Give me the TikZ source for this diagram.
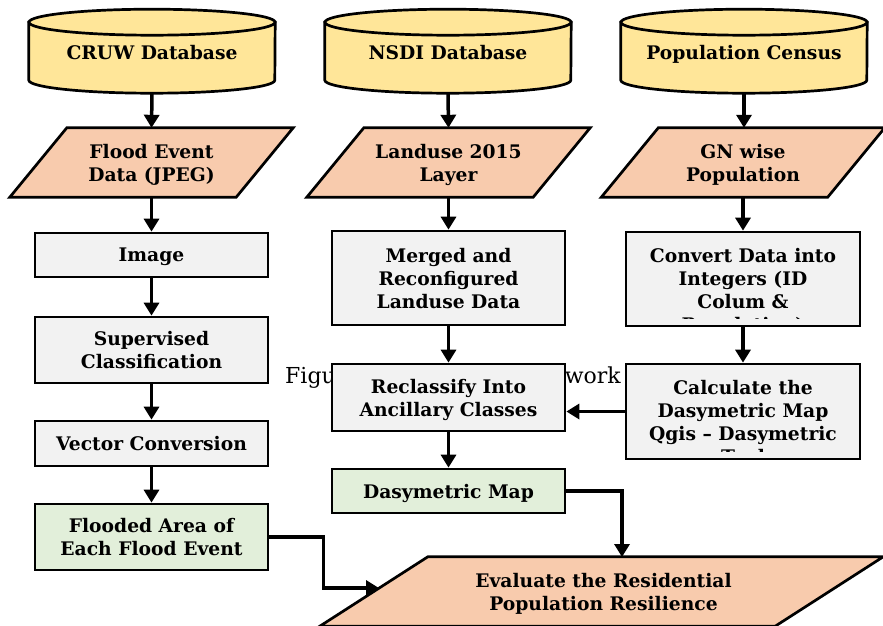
\documentclass[tikz,border=0pt]{standalone}
\usepackage{fontspec}
\setmainfont{DejaVu Serif}
\usetikzlibrary{arrows.meta,calc}
\pgfdeclarelayer{bg}
\pgfsetlayers{bg,main}
\definecolor{cylfill}{HTML}{FFE699}
\definecolor{parafill}{HTML}{F8CBAD}
\definecolor{boxfill}{HTML}{F2F2F2}
\definecolor{greenfill}{HTML}{E2EFDA}
\tikzset{
  lbl/.style={font=\bfseries\fontsize{18.7}{23}\selectfont, align=center, text=black, text depth=0pt},
  area/.style={inner sep=0pt, lbl},
  cyltext/.style={area, text height=14pt, text depth=4pt},
  procbox/.style={draw, line width=2.7pt, fill=boxfill, inner sep=0pt, lbl},
  resbox/.style={procbox, fill=greenfill},
  shapeline/.style={draw, line width=2.7pt},
  flow/.style={line width=3.5pt, -{Triangle[width=15pt,length=13pt]}},
  capt/.style={font=\fontsize{22}{26}\selectfont, inner sep=0pt},
}
\newcommand\drawcyl[1]{%
  \path[shapeline, fill=cylfill] ($(#1.south west)+(0,-71)$) -- ($(#1.south west)+(0,-13)$)
    arc[start angle=180, end angle=360, x radius=123pt, y radius=13pt]
    -- ($(#1.south east)+(0,-71)$) -- cycle;
  \path[shapeline, fill=cylfill] ($(#1.south)+(0,-71)$) ellipse[x radius=123pt, y radius=13pt];}
\newcommand\drawpara[2]{%
  \path[shapeline, fill=parafill] (#1.south west) -- ($(#1.south east)+(-#2,0)$)
    -- (#1.north east) -- ($(#1.north west)+(#2,0)$) -- cycle;}
\begin{document}
\begin{tikzpicture}[x=1pt,y=-1pt]
\useasboundingbox (0,0) rectangle (883,625);
\clip (0,0) rectangle (883,625);
% caption fragments behind the boxes
\node[capt, anchor=base west] (figu) at (285,383) {Figu};
\node[capt, anchor=base east] (work) at (621,383) {work};
% databases
\node[cyltext, minimum width=246pt, minimum height=78pt] (cruw) at (152,54) {CRUW Database};
\node[cyltext, minimum width=246pt, minimum height=78pt] (nsdi) at (448,54) {NSDI Database};
\node[cyltext, minimum width=246pt, minimum height=78pt] (census) at (744,54) {Population Census};
% data layers
\node[area, minimum width=283pt, minimum height=69pt] (flood) at (151.5,162.5) {Flood Event\\Data (JPEG)};
\node[area, minimum width=283pt, minimum height=69pt] (landuse) at (448.5,162.5) {Landuse 2015\\Layer};
\node[area, minimum width=283pt, minimum height=69pt] (gn) at (743,162.5) {GN wise\\Population};
% left column
\node[procbox, minimum width=233pt, minimum height=44pt] (image) at (151.5,255) {Image};
\node[procbox, minimum width=233pt, minimum height=66pt] (superv) at (151.5,350) {Supervised\\Classification};
\node[procbox, minimum width=233pt, minimum height=45pt] (vector) at (151.5,443.5) {Vector Conversion};
\node[resbox, minimum width=233pt, minimum height=66pt] (flooded) at (151.5,537) {Flooded Area of\\Each Flood Event};
% middle column
\node[procbox, minimum width=233pt, minimum height=94pt] (merged) at (448.5,278) {Merged and\\Reconfigured\\Landuse Data};
\node[procbox, minimum width=233pt, minimum height=67pt] (reclass) at (448.5,397.5) {Reclassify Into\\Ancillary Classes};
\node[resbox, minimum width=233pt, minimum height=44pt] (dasy) at (448.5,491) {Dasymetric Map};
% right column
\node[procbox, minimum width=234pt, minimum height=94pt] (convert) at (743,279) {};
\node[procbox, minimum width=234pt, minimum height=95pt] (calc) at (743,411.5) {};
\begin{scope}
  \clip ($(convert.north west)+(2,2)$) rectangle ($(convert.south east)+(-2,-9)$);
  \node[lbl, inner sep=0pt] (convtxt) at (743,290) {Convert Data into\\Integers (ID\\Colum \&\\Population)};
\end{scope}
\begin{scope}
  \clip ($(calc.north west)+(2,2)$) rectangle ($(calc.south east)+(-2,-9)$);
  \node[lbl, inner sep=0pt] (calctxt) at (743,422) {Calculate the\\Dasymetric Map\\Qgis – Dasymetric\\Tool};
\end{scope}
% final evaluation
\node[area, minimum width=563pt, minimum height=69pt] (eval) at (601.5,591.5) {};
\node[lbl, inner sep=0pt] (evaltxt) at (603.5,591.5) {Evaluate the Residential\\Population Resilience};
\coordinate (evin) at (379,588);
\coordinate (evtop) at (622,557);
% background shapes
\begin{pgfonlayer}{bg}
  \drawcyl{cruw}\drawcyl{nsdi}\drawcyl{census}
  \drawpara{flood}{57}\drawpara{landuse}{57}\drawpara{gn}{57}
  \drawpara{eval}{108}
\end{pgfonlayer}
% connectors
\draw[flow] (cruw.south) -- (flood.north);
\draw[flow] (flood.south) -- (image.north);
\draw[flow] (image.south) -- (superv.north);
\draw[flow] (superv.south) -- (vector.north);
\draw[flow] (vector.south) -- (flooded.north);
\draw[flow] (nsdi.south) -- (landuse.north);
\draw[flow] (landuse.south) -- (merged.north);
\draw[flow] (merged.south) -- (reclass.north);
\draw[flow] (reclass.south) -- (dasy.north);
\draw[flow] (census.south) -- (census.south |- gn.north);
\draw[flow] (gn.south) -- (gn.south |- convert.north);
\draw[flow] (convert.south) -- (calc.north);
\draw[flow] (calc.west) -- (calc.west -| reclass.east);
\draw[flow] (flooded.east) -- ++(54,0) |- (evin);
\draw[flow] (dasy.east) -| (evtop);
\end{tikzpicture}
\end{document}
